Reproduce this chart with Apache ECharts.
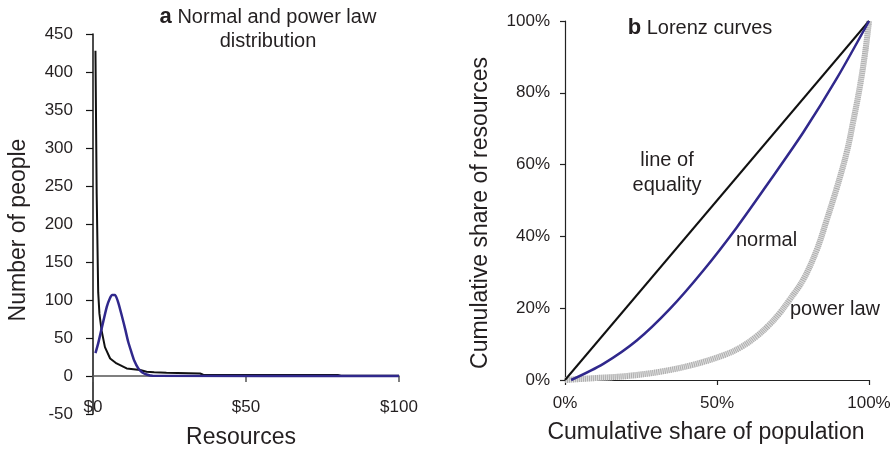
<!DOCTYPE html>
<html><head><meta charset="utf-8">
<script src="https://cdn.jsdelivr.net/npm/echarts@6/dist/echarts.min.js"></script>
<style>html,body{margin:0;padding:0;background:#fff}#c{width:893px;height:450px}</style>
</head><body><div id="c"></div>
<script>
// ---- Panel a: Normal and power law distribution ----
const powerLawDollars = [0.8, 1.2, 1.7, 2.1, 2.8, 3.9, 5.6, 7.7, 11, 15.4, 17.5, 20, 24, 35, 36, 80, 81, 100];
const powerLawPeople  = [428, 240, 110, 82, 60, 38, 23, 16.5, 10, 8, 5.6, 5, 4.3, 3.3, 1.6, 1.3, 0.4, 0.4];
const normalDollars   = [0.8, 1.7, 2.8, 4.5, 5.5, 6.3, 7.2, 8.3, 9.5, 10.5, 11.5, 12.5, 13.5, 14.8, 16, 17.5, 19.5, 100];
const normalPeople    = [30, 43, 62, 91, 102, 106.5, 106.5, 96, 78, 62, 45, 32, 20, 10, 5, 2, 0.3, 0];

// ---- Panel b: Lorenz curves ----
const equalityPop = [0, 100];
const equalityRes = [0, 100];
const normalPop = [2, 12.6, 23.6, 34.5, 45.5, 56.5, 67.4, 78.4, 89.4, 100];
const normalRes = [0, 4.5, 11, 19.8, 30.5, 42.5, 55.5, 69, 84, 100];
const powerPop  = [0, 9.3, 20.3, 31.3, 42, 52.5, 58, 63.1, 67, 70.5, 74, 78.4, 82.8, 86.1, 89.4, 92.7, 94.8, 97, 98.7, 100];
const powerRes  = [0, 0.5, 1.1, 2.3, 4.2, 7.0, 9.2, 12.2, 15.2, 18.5, 22.5, 28, 36.2, 44.6, 53.5, 63.5, 72, 81.7, 91, 100];

const FONT = "'Liberation Sans', Arial, Helvetica, sans-serif";
const TXT = '#231f20';
const zip = (a, b) => a.map((v, i) => [v, b[i]]);

const chart = echarts.init(document.getElementById('c'), null, {renderer: 'canvas'});

const tickLabel = {fontFamily: FONT, fontSize: 17, color: TXT};
const richTitle = {
  b: {fontFamily: FONT, fontSize: 22, fontWeight: 'bold', color: TXT, lineHeight: 24},
  n: {fontFamily: FONT, fontSize: 20, fontWeight: 'normal', color: TXT, lineHeight: 24}
};

const option = {
  animation: false,
  backgroundColor: '#fff',
  title: [
    {
      text: '{b|a} {n|Normal and power law}\n{n|distribution}',
      left: 268, top: 5, textAlign: 'center', padding: 0,
      textStyle: {fontWeight: 'normal', fontFamily: FONT, fontSize: 20, color: TXT, rich: richTitle}
    },
    {
      text: '{b|b} {n|Lorenz curves}',
      left: 700, top: 16, textAlign: 'center', padding: 0,
      textStyle: {fontWeight: 'normal', fontFamily: FONT, fontSize: 20, color: TXT, rich: richTitle}
    }
  ],
  grid: [
    {left: 93, top: 34, width: 306, height: 380, outerBoundsMode: 'none', containLabel: false},
    {left: 565, top: 21, width: 304, height: 359, outerBoundsMode: 'none', containLabel: false}
  ],
  xAxis: [
    {
      gridIndex: 0, type: 'value', min: 0, max: 100, interval: 50,
      axisLine: {onZero: true, lineStyle: {color: '#555', width: 1.5}},
      axisTick: {show: true, length: 6, lineStyle: {color: '#555', width: 1.5}},
      axisLabel: Object.assign({margin: -15, formatter: v => '$' + v}, tickLabel),
      splitLine: {show: false}
    },
    {
      gridIndex: 1, type: 'value', min: 0, max: 100, interval: 50,
      axisLine: {onZero: true, lineStyle: {color: '#222', width: 1.2}},
      axisTick: {show: true, length: 5, lineStyle: {color: '#222', width: 1.2}},
      axisLabel: Object.assign({margin: 15, formatter: v => v + '%'}, tickLabel),
      splitLine: {show: false}
    }
  ],
  yAxis: [
    {
      gridIndex: 0, type: 'value', min: -50, max: 450, interval: 50,
      axisLine: {show: true, onZero: true, lineStyle: {color: '#111', width: 1.5}},
      axisTick: {show: true, length: 7, lineStyle: {color: '#111', width: 1.2}},
      axisLabel: Object.assign({margin: 20}, tickLabel),
      splitLine: {show: false}
    },
    {
      gridIndex: 1, type: 'value', min: 0, max: 100, interval: 20,
      axisLine: {show: true, onZero: true, lineStyle: {color: '#222', width: 1.2}},
      axisTick: {show: true, length: 5, lineStyle: {color: '#222', width: 1.2}},
      axisLabel: Object.assign({margin: 15, formatter: v => v + '%'}, tickLabel),
      splitLine: {show: false}
    }
  ],
  series: [
    {
      name: 'power law', type: 'line', xAxisIndex: 0, yAxisIndex: 0,
      data: zip(powerLawDollars, powerLawPeople), showSymbol: false,
      smooth: false,
      lineStyle: {color: '#111', width: 2}, z: 3
    },
    {
      name: 'normal', type: 'line', xAxisIndex: 0, yAxisIndex: 0,
      data: zip(normalDollars, normalPeople), showSymbol: false,
      smooth: 0.2,
      lineStyle: {color: '#30288c', width: 2.5}, z: 4
    },
    {
      name: 'power law band', type: 'line', xAxisIndex: 1, yAxisIndex: 1,
      data: zip(powerPop, powerRes), showSymbol: false,
      smooth: 0.4,
      lineStyle: {color: '#dcdcdc', width: 6}, z: 2
    },
    {
      name: 'power law hatch', type: 'line', xAxisIndex: 1, yAxisIndex: 1,
      data: zip(powerPop, powerRes), showSymbol: false,
      smooth: 0.4,
      lineStyle: {color: '#a6a6a6', width: 6, type: [0.8, 1.2]}, z: 2
    },
    {
      name: 'line of equality', type: 'line', xAxisIndex: 1, yAxisIndex: 1,
      data: zip(equalityPop, equalityRes), showSymbol: false,
      lineStyle: {color: '#111', width: 2}, z: 3
    },
    {
      name: 'normal lorenz', type: 'line', xAxisIndex: 1, yAxisIndex: 1,
      data: zip(normalPop, normalRes), showSymbol: false,
      smooth: 0.3,
      lineStyle: {color: '#30288c', width: 2.5}, z: 4
    }
  ],
  graphic: [
    {type: 'text', x: 19, y: 230, rotation: Math.PI / 2,
     style: {text: 'Number of people', font: '23px ' + FONT, fill: TXT, align: 'center', verticalAlign: 'middle'}},
    {type: 'text', x: 241, y: 438,
     style: {text: 'Resources', font: '23px ' + FONT, fill: TXT, align: 'center', verticalAlign: 'middle'}},
    {type: 'text', x: 481, y: 213, rotation: Math.PI / 2,
     style: {text: 'Cumulative share of resources', font: '23px ' + FONT, fill: TXT, align: 'center', verticalAlign: 'middle'}},
    {type: 'text', x: 706, y: 433,
     style: {text: 'Cumulative share of population', font: '23px ' + FONT, fill: TXT, align: 'center', verticalAlign: 'middle'}},
    {type: 'text', x: 667, y: 160,
     style: {text: 'line of', font: '20px ' + FONT, fill: TXT, align: 'center', verticalAlign: 'middle'}},
    {type: 'text', x: 667, y: 185,
     style: {text: 'equality', font: '20px ' + FONT, fill: TXT, align: 'center', verticalAlign: 'middle'}},
    {type: 'text', x: 736, y: 240,
     style: {text: 'normal', font: '20px ' + FONT, fill: TXT, align: 'left', verticalAlign: 'middle'}},
    {type: 'text', x: 790, y: 309,
     style: {text: 'power law', font: '20px ' + FONT, fill: TXT, align: 'left', verticalAlign: 'middle'}}
  ]
};
chart.setOption(option);
</script>
</body></html>
